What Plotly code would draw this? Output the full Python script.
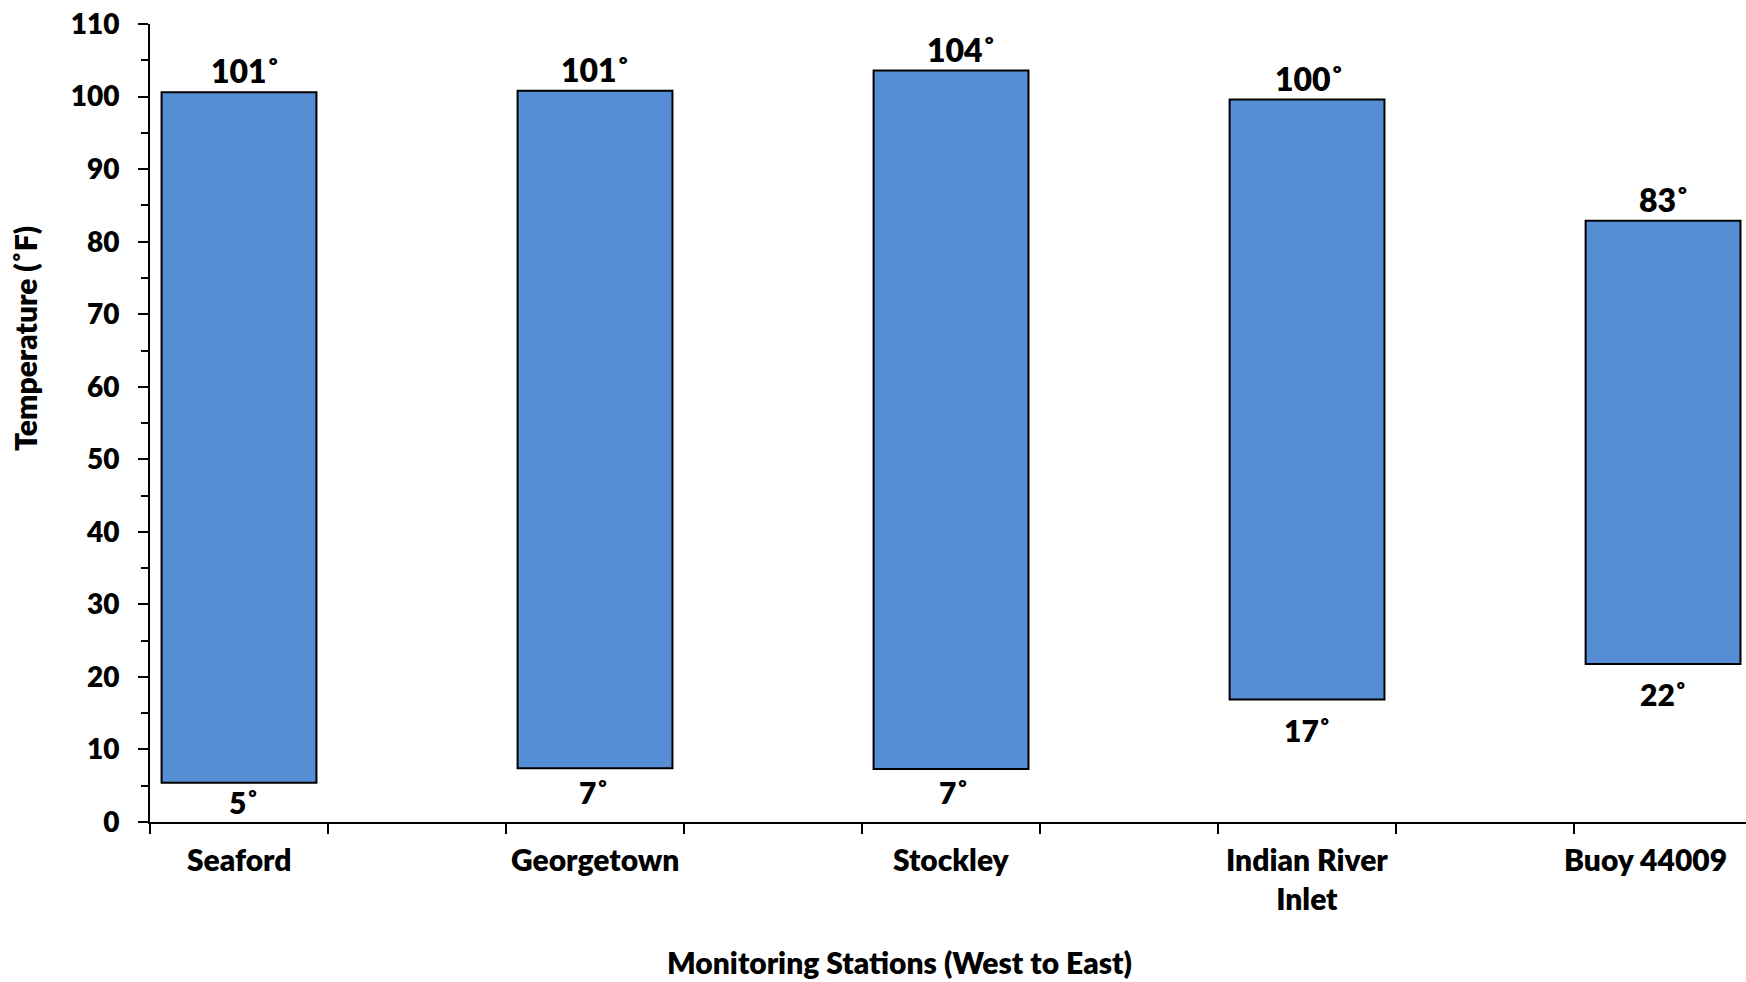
import plotly.graph_objects as go

stations = ["Seaford", "Georgetown", "Stockley", "Indian River<br>Inlet", "Buoy 44009"]
lows = [5.4, 7.4, 7.3, 16.9, 21.8]
highs = [100.6, 100.8, 103.6, 99.6, 82.9]
positions = [0.5, 2.5, 4.5, 6.5, 8.5]
y_ticks = [0, 10, 20, 30, 40, 50, 60, 70, 80, 90, 100, 110]

FONT = "Lato"
WEIGHT = 800
BLUE = "#558ED5"

# label nudges in pixels (style only), mirroring the hand-placed labels of the reference
top_dx = [6, 0, 10, 2, 1]
low_dx = [4, -2, 2, 0, 0]
low_dy = [1, -4, -3, -11, -10]
cat_dx = [0, 0, 0, 0, -18]

high_text = [f"{round(v)}˚" for v in highs]
low_text = [f"{round(v)}˚" for v in lows]
spans = [h - l for h, l in zip(highs, lows)]

fig = go.Figure()
fig.add_trace(go.Bar(
    x=positions, y=spans, base=lows, width=0.87,
    marker=dict(color=BLUE, line=dict(color="black", width=2)),
    hoverinfo="skip", showlegend=False,
))

annotations = []
for pos, v, t, dx in zip(positions, highs, high_text, top_dx):
    annotations.append(dict(
        text=t, x=pos, y=v, xref="x", yref="y", xanchor="center", yanchor="bottom",
        xshift=dx, yshift=0, showarrow=False,
        font=dict(family=FONT, size=32, color="black", weight=WEIGHT),
    ))
for pos, v, t, dx, dy in zip(positions, lows, low_text, low_dx, low_dy):
    annotations.append(dict(
        text=t, x=pos, y=v, xref="x", yref="y", xanchor="center", yanchor="top",
        xshift=dx, yshift=dy, showarrow=False,
        font=dict(family=FONT, size=30, color="black", weight=WEIGHT),
    ))
for pos, name, dx in zip(positions, stations, cat_dx):
    annotations.append(dict(
        text=name, x=pos, xref="x", y=0, yref="paper",
        xanchor="center", yanchor="top", yshift=-17, xshift=dx,
        showarrow=False, align="center",
        font=dict(family=FONT, size=30, color="black", weight=WEIGHT),
    ))
annotations += [
    dict(text="Temperature (˚F)", xref="paper", yref="paper",
         x=-0.0783, y=0.6053, textangle=-90, showarrow=False,
         xanchor="center", yanchor="middle",
         font=dict(family=FONT, size=30, color="black", weight=WEIGHT)),
    dict(text="Monitoring Stations (West to East)", xref="paper", yref="paper",
         x=0.4699, y=-0.1754, showarrow=False,
         xanchor="center", yanchor="middle",
         font=dict(family=FONT, size=30, color="black", weight=WEIGHT)),
]

fig.update_layout(
    width=1746, height=982,
    margin=dict(l=150, r=0, t=24, b=160),
    paper_bgcolor="white", plot_bgcolor="white",
    font=dict(family=FONT, color="black", weight=WEIGHT),
    xaxis=dict(
        range=[0, 8.966], tickmode="array", tickvals=positions,
        ticks="", showticklabels=False, showgrid=False, zeroline=False,
        showline=True, linecolor="black", linewidth=2,
        minor=dict(tickmode="linear", tick0=0, dtick=1, ticks="outside",
                   ticklen=10, tickwidth=2, tickcolor="black", showgrid=False),
    ),
    yaxis=dict(
        range=[0, 110.02], tickmode="array", tickvals=y_ticks,
        ticks="outside", ticklen=10, tickwidth=2, tickcolor="black",
        showgrid=False, zeroline=False,
        showline=True, linecolor="black", linewidth=2,
        tickfont=dict(family=FONT, size=28, color="black", weight=WEIGHT),
        ticklabelstandoff=13,
        minor=dict(tickmode="linear", tick0=0, dtick=5, ticks="outside",
                   ticklen=7, tickwidth=2, tickcolor="black", showgrid=False),
    ),
    annotations=annotations,
)

fig.write_html(
    "out.html",
    config={"displayModeBar": False},
    post_script="document.body.style.margin='0';document.body.style.overflow='hidden';",
)
